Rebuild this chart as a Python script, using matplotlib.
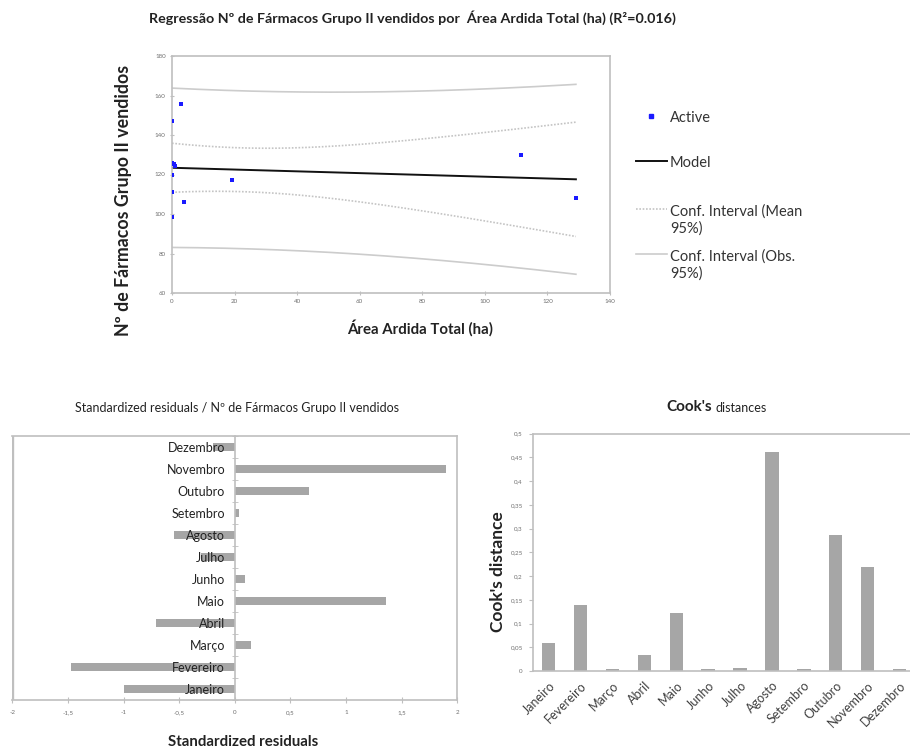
import numpy as np
import matplotlib
matplotlib.use("Agg")
import matplotlib.pyplot as plt
from matplotlib.lines import Line2D

plt.rcParams['font.family'] = ['Lato', 'DejaVu Sans']

# ---------------- data ----------------
months = ["Janeiro", "Fevereiro", "Março", "Abril", "Maio", "Junho", "Julho",
          "Agosto", "Setembro", "Outubro", "Novembro", "Dezembro"]
area_ardida = [3.9, 0.0, 0.0, 0.0, 0.0, 0.6, 19.1, 129.1, 0.85, 111.4, 2.8, 0.0]
farmacos = [105.9, 98.4, 126.0, 111.0, 147.0, 125.1, 117.2, 108.3, 124.3, 129.8, 155.9, 119.9]
std_residuals = [-1.00, -1.47, 0.15, -0.71, 1.36, 0.09, -0.30, -0.55, 0.04, 0.67, 1.90, -0.20]
cooks_d = [0.060, 0.140, 0.005, 0.034, 0.122, 0.004, 0.006, 0.461, 0.005, 0.286, 0.219, 0.005]
x_ticks_top = [0, 20, 40, 60, 80, 100, 120, 140]
y_ticks_top = [60, 80, 100, 120, 140, 160, 180]
resid_ticks = [-2, -1.5, -1, -0.5, 0, 0.5, 1, 1.5, 2]
resid_tick_labels = ["-2", "-1,5", "-1", "-0,5", "0", "0,5", "1", "1,5", "2"]
cook_ticks = [0, 0.05, 0.1, 0.15, 0.2, 0.25, 0.3, 0.35, 0.4, 0.45, 0.5]
cook_tick_labels = ["0", "0,05", "0,1", "0,15", "0,2", "0,25", "0,3", "0,35", "0,4", "0,45", "0,5"]
legend_labels = ["Active", "Model", "Conf. Interval (Mean\n95%)", "Conf. Interval (Obs.\n95%)"]
t_value = 2.228  # Student t, 95%, df = 10

GRID = "#bfbfbf"
BAR = "#a6a6a6"
DARK = "#222222"
BLUE = "#1a1aff"
OBS_C = "#cccccc"
MEAN_C = "#c4c4c4"

fig = plt.figure(figsize=(9.10, 7.52), dpi=100)

def fx(px):
    return px / 910

def fy(py):
    return 1 - py / 752

# ---------------- top: regression ----------------
x = np.array(area_ardida)
y = np.array(farmacos)
n = len(x)
b, a = np.polyfit(x, y, 1)
resid = y - (a + b * x)
s = np.sqrt(np.sum(resid ** 2) / (n - 2))
xm = x.mean()
sxx = np.sum((x - xm) ** 2)
xs = np.linspace(0, x.max(), 200)
ys = a + b * xs
se_mean = s * np.sqrt(1 / n + (xs - xm) ** 2 / sxx)
se_obs = s * np.sqrt(1 + 1 / n + (xs - xm) ** 2 / sxx)

ax1 = fig.add_axes([fx(172), fy(293), 438 / 910, 237 / 752])
ax1.plot(xs, ys + t_value * se_obs, color=OBS_C, lw=1.2)
ax1.plot(xs, ys - t_value * se_obs, color=OBS_C, lw=1.2)
ax1.plot(xs, ys + t_value * se_mean, color=MEAN_C, lw=1.2, ls=(0, (1, 1)))
ax1.plot(xs, ys - t_value * se_mean, color=MEAN_C, lw=1.2, ls=(0, (1, 1)))
ax1.plot(xs, ys, color="#111111", lw=1.4)
ax1.scatter(x, y, s=9, marker="s", color=BLUE, zorder=5, linewidths=0)
ax1.set_xlim(0, 140)
ax1.set_ylim(60, 180)
ax1.set_xticks(x_ticks_top)
ax1.set_yticks(y_ticks_top)
ax1.tick_params(labelsize=4.5, colors=GRID, labelcolor="#707070", length=3, direction="inout", pad=3)
for sp in ax1.spines.values():
    sp.set_color(GRID)
    sp.set_linewidth(1.2)
fig.text(fx(412), fy(18),
         "Regressão Nº de Fármacos Grupo II vendidos por  Área Ardida Total (ha) (R²=0.016)",
         ha="center", va="center", fontsize=10.3, fontweight="bold", color=DARK)
fig.text(fx(420), fy(328), "Área Ardida Total (ha)", ha="center", va="center",
         fontsize=10.8, fontweight="bold", color=DARK)
fig.text(fx(124), fy(200), "Nº de Fármacos Grupo II vendidos", ha="center", va="center",
         rotation=90, fontsize=12.8, fontweight="bold", color=DARK)

# legend (drawn manually to match the spreadsheet-style layout)
leg_fs = 10.5
fig.add_artist(Line2D([fx(651)], [fy(116)], ls="none", marker="s", ms=2.2, color=BLUE))
fig.add_artist(Line2D([fx(636), fx(667)], [fy(161), fy(161)], color="#111111", lw=1.4))
fig.add_artist(Line2D([fx(636), fx(667)], [fy(209), fy(209)], color=MEAN_C, lw=1.2, ls=(0, (1, 1))))
fig.add_artist(Line2D([fx(636), fx(667)], [fy(254), fy(254)], color=OBS_C, lw=1.2))
leg_y = [116, 161, 209, 254]
for lab, yy in zip(legend_labels, leg_y):
    fig.text(fx(670), fy(yy - 5), lab, ha="left", va="top", fontsize=leg_fs,
             color="#333333", linespacing=1.3)

# ---------------- bottom left: standardized residuals ----------------
ax2 = fig.add_axes([fx(12.3), fy(700), 445 / 910, 264.3 / 752])
ax2.set_axisbelow(False)
pos = np.arange(len(months))
ax2.barh(pos, std_residuals, height=0.38, color=BAR, zorder=1)
ax2.set_xlim(-2, 2)
ax2.set_ylim(-0.5, len(months) - 0.5)
ax2.spines["left"].set_position(("data", 0))
for sp in ax2.spines.values():
    sp.set_color(GRID)
    sp.set_linewidth(1.2)
ax2.axvline(-2, color=GRID, lw=2.4)
ax2.set_yticks(pos)
ax2.set_yticklabels(months)
ax2.set_yticks(np.arange(-0.5, len(months)), minor=True)
ax2.tick_params(axis="y", which="major", length=0, pad=7, labelsize=9.0, labelcolor=DARK)
ax2.tick_params(axis="y", which="minor", length=5, direction="inout", color=GRID)
ax2.set_xticks(resid_ticks)
ax2.set_xticklabels(resid_tick_labels)
ax2.tick_params(axis="x", length=5, direction="inout", color=GRID, labelsize=4.5,
                labelcolor="#707070", pad=5)
fig.text(fx(237), fy(408), "Standardized residuals / Nº de Fármacos Grupo II vendidos",
         ha="center", va="center", fontsize=9.0, color=DARK)
fig.text(fx(243), fy(742), "Standardized residuals", ha="center", va="center",
         fontsize=10.8, fontweight="bold", color=DARK)

# ---------------- bottom right: Cook's distances ----------------
ax3 = fig.add_axes([fx(532.7), fy(671), 382.8 / 910, 237.3 / 752])
ax3.bar(pos, cooks_d, width=0.42, color=BAR, zorder=2)
ax3.set_xlim(-0.5, len(months) - 0.5)
ax3.set_ylim(0, 0.5)
for sp in ax3.spines.values():
    sp.set_color(GRID)
    sp.set_linewidth(1.2)
ax3.spines["right"].set_visible(False)
ax3.set_yticks(cook_ticks)
ax3.set_yticklabels(cook_tick_labels)
ax3.tick_params(axis="y", length=3, color=GRID, labelsize=4.5, labelcolor="#707070", pad=4)
ax3.set_xticks(pos)
ax3.set_xticklabels(months, rotation=45, ha="right", rotation_mode="anchor")
ax3.tick_params(axis="x", length=0, labelsize=9, labelcolor="#404040", pad=6)
fig.text(fx(498), fy(572), "Cook's distance", ha="center", va="center", rotation=90,
         fontsize=12.5, fontweight="bold", color=DARK)
fig.text(fx(712), fy(407), "Cook's", ha="right", va="center",
         fontsize=11, fontweight="bold", color=DARK)
fig.text(fx(715), fy(408), "distances", ha="left", va="center",
         fontsize=9, color=DARK)

fig.savefig("out.png", dpi=100)
